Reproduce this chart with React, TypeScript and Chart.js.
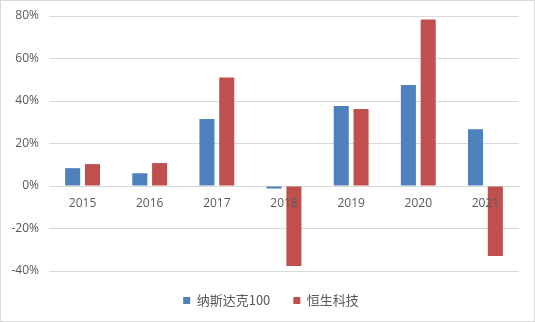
import React, { useEffect, useRef } from "react";
import { Chart, registerables } from "chart.js";

Chart.register(...registerables);

const years = ["2015", "2016", "2017", "2018", "2019", "2020", "2021"];
const nasdaq100 = [8.4, 6.0, 31.5, -1.2, 37.7, 47.5, 26.7];
const hangSengTech = [10.3, 10.8, 51.1, -37.6, 36.2, 78.3, -32.9];
const yTicks = [-40, -20, 0, 20, 40, 60, 80];

const shiftLegend = {
  id: "shiftLegend",
  afterLayout(chart: any) {
    const lg = chart.legend;
    if (lg) { lg.left += 11; lg.right += 11; }
  },
};

export default function App() {
  const ref = useRef<HTMLCanvasElement>(null);
  useEffect(() => {
    if (!ref.current) return;
    const font = { family: "'Open Sans', 'Noto Sans CJK SC', sans-serif", size: 12 };
    const chart = new Chart(ref.current, {
      type: "bar",
      data: {
        labels: years,
        datasets: [
          { label: "纳斯达克100", data: nasdaq100, backgroundColor: "#4f81bd", barPercentage: 0.76, categoryPercentage: 0.59 },
          { label: "恒生科技", data: hangSengTech, backgroundColor: "#c0504d", barPercentage: 0.76, categoryPercentage: 0.59 },
        ],
      },
      plugins: [shiftLegend],
      options: {
        animation: false,
        responsive: false,
        layout: { padding: { left: 0, right: 15, top: 15, bottom: 4 } },
        plugins: {
          tooltip: { enabled: false },
          legend: {
            position: "bottom",
            labels: {
              boxWidth: 7,
              boxHeight: 7,
              color: "#595959",
              font: { family: "'Noto Sans CJK SC', sans-serif", size: 13 },
              padding: 23,
            },
          },
        },
        scales: {
          x: {
            position: { y: 0 },
            grid: { display: false },
            border: { display: true, color: "#d9d9d9" },
            ticks: { color: "#595959", font, padding: 2, z: 1 },
            afterFit: (s: any) => { s.paddingTop = 0; s.paddingBottom = 0; s.paddingLeft = 0; s.paddingRight = 0; },
          },
          y: {
            min: -40,
            max: 80,
            afterBuildTicks: (s: any) => { s.ticks = yTicks.map((v) => ({ value: v })); },
            afterFit: (s: any) => { s.width = 48; s.paddingTop = 0; s.paddingBottom = 0; },
            grid: { color: "#d9d9d9", drawTicks: false },
            border: { display: false },
            ticks: { color: "#595959", font, padding: 10, callback: (v: any) => v + "%" },
          },
        },
      },
    });
    return () => chart.destroy();
  }, []);
  return (
    <div style={{ position: "absolute", left: 0, top: 0, width: 535, height: 322, boxSizing: "border-box", border: "1px solid #d9d9d9", background: "#fff" }}>
      <canvas ref={ref} width={533} height={320} style={{ display: "block" }} />
    </div>
  );
}
